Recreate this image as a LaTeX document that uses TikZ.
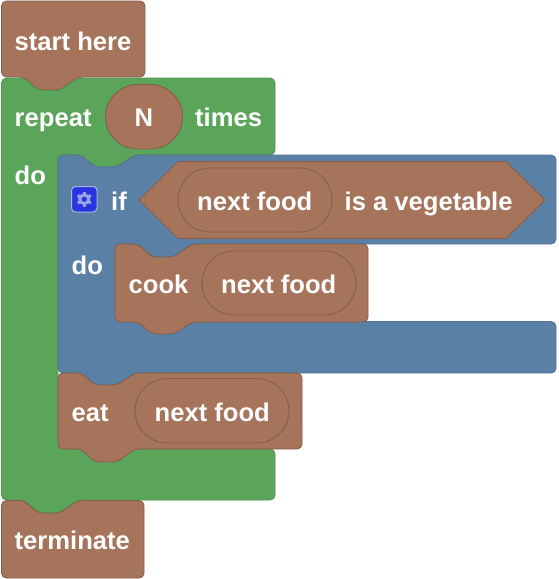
\documentclass[tikz,border=0pt]{standalone}
\usepackage{fontspec}
\setmainfont{Liberation Sans}[BoldFont={Liberation Sans Bold}]
\definecolor{brownfill}{HTML}{A5745B}
\definecolor{brownline}{HTML}{855E4B}
\definecolor{greenfill}{HTML}{5BA55B}
\definecolor{greenline}{HTML}{52954F}
\definecolor{bluefill}{HTML}{5B80A5}
\definecolor{blueline}{HTML}{527396}
\definecolor{iconfill}{HTML}{2A35E0}
\definecolor{iconline}{HTML}{A8B8D8}
\definecolor{gearcol}{HTML}{98A4EC}
\tikzset{
  brownblock/.style={fill=brownfill,draw=brownline,line width=.9pt,rounded corners=5pt,line join=round},
  greenblock/.style={fill=greenfill,draw=greenline,line width=.9pt,rounded corners=5pt,line join=round},
  blueblock/.style={fill=bluefill,draw=blueline,line width=.9pt,rounded corners=5pt,line join=round},
  pillshape/.style={fill=brownfill,draw=brownline,line width=.9pt},
  lbl/.style={text=white,font=\fontsize{25.6}{30}\selectfont\bfseries,inner sep=0pt,anchor=base west},
}
\newcommand\pillpath[4]{% x1, y1, x2, radius (height = 2 radius)
  \draw[pillshape] (#1+#4,#2) arc[start angle=90,end angle=270,radius=#4pt] -- (#3-#4,#2+2*#4) arc[start angle=270,end angle=450,radius=#4pt] -- cycle;}
\begin{document}
\begin{tikzpicture}[x=1pt,y=-1pt]
\useasboundingbox (0,0) rectangle (558,579);
% start here
\draw[brownblock] (1.5,1) -- (145,1) -- (145,77) -- (78,77) -- (60,90) -- (38,90) -- (24,77) -- (1.5,77) -- cycle;
% repeat
\draw[greenblock] (1.5,78) -- (24,78) -- (38,90.5) -- (60,90.5) -- (78,78) -- (275,78) -- (275,155) -- (135,155) -- (117,167) -- (95,167) -- (81,155) -- (58,155) -- (58,449) -- (275,449) -- (275,500) -- (78,500) -- (60,513) -- (38,513) -- (24,500) -- (1.5,500) -- cycle;
% terminate
\draw[brownblock] (1.5,500.5) -- (24,500.5) -- (38,513) -- (60,513) -- (78,500.5) -- (144,500.5) -- (144,578) -- (1.5,578) -- cycle;
% if
\draw[blueblock] (58,155) -- (81,155) -- (95,167) -- (117,167) -- (135,155) -- (556,155) -- (556,244) -- (192,244) -- (174,257) -- (152,257) -- (138,244) -- (115,244) -- (115,321.5) -- (556,321.5) -- (556,373) -- (135,373) -- (117,385) -- (95,385) -- (81,373) -- (58,373) -- cycle;
% cook
\draw[brownblock] (115,244) -- (138,244) -- (152,257) -- (174,257) -- (192,244) -- (368,244) -- (368,322) -- (192,322) -- (174,334) -- (152,334) -- (138,322) -- (115,322) -- cycle;
% eat
\draw[brownblock] (58,373) -- (81,373) -- (95,385) -- (117,385) -- (135,373) -- (302,373) -- (302,449) -- (135,449) -- (117,462) -- (95,462) -- (81,449) -- (58,449) -- cycle;
% N pill
\pillpath{105.5}{84.5}{182.5}{32.25}
% if condition
\draw[pillshape,line join=miter] (139,200) -- (178,161.5) -- (506,161.5) -- (545,200) -- (506,238.5) -- (178,238.5) -- cycle;
\pillpath{178}{168}{332}{32}
\pillpath{202}{251}{356}{32}
\pillpath{135}{378.5}{289}{32.25}
% icon
\draw[fill=iconfill,draw=iconline,line width=1pt,rounded corners=4pt] (71.5,186.5) rectangle (97,212);
\foreach \a in {30,90,...,330}
  \draw[gearcol,line width=3pt] (84.25,199.25) ++(\a:5pt) -- ++(\a:2.6pt);
\draw[gearcol,line width=3pt] (84.25,199.25) circle[radius=4.4pt];
% labels
\node[lbl] (lstart) at (14.5,50) {start here};
\node[lbl] (lrepeat) at (14.5,126) {repeat};
\node[lbl] (ln) at (134.5,126) {N};
\node[lbl] (ltimes) at (195,126) {times};
\node[lbl] (ldo) at (14.5,184) {do};
\node[lbl] (lif) at (111,210) {if};
\node[lbl] (lnf) at (197,210) {next food};
\node[lbl] (lveg) at (344.5,210) {is a vegetable};
\node[lbl] (ldob) at (71.5,274) {do};
\node[lbl] (lcook) at (128.5,293) {cook};
\node[lbl] (lnfb) at (221,293) {next food};
\node[lbl] (leat) at (71.5,421) {eat};
\node[lbl] (lnfc) at (154.5,421) {next food};
\node[lbl] (lterm) at (14.5,549) {terminate};
\end{tikzpicture}
\end{document}
